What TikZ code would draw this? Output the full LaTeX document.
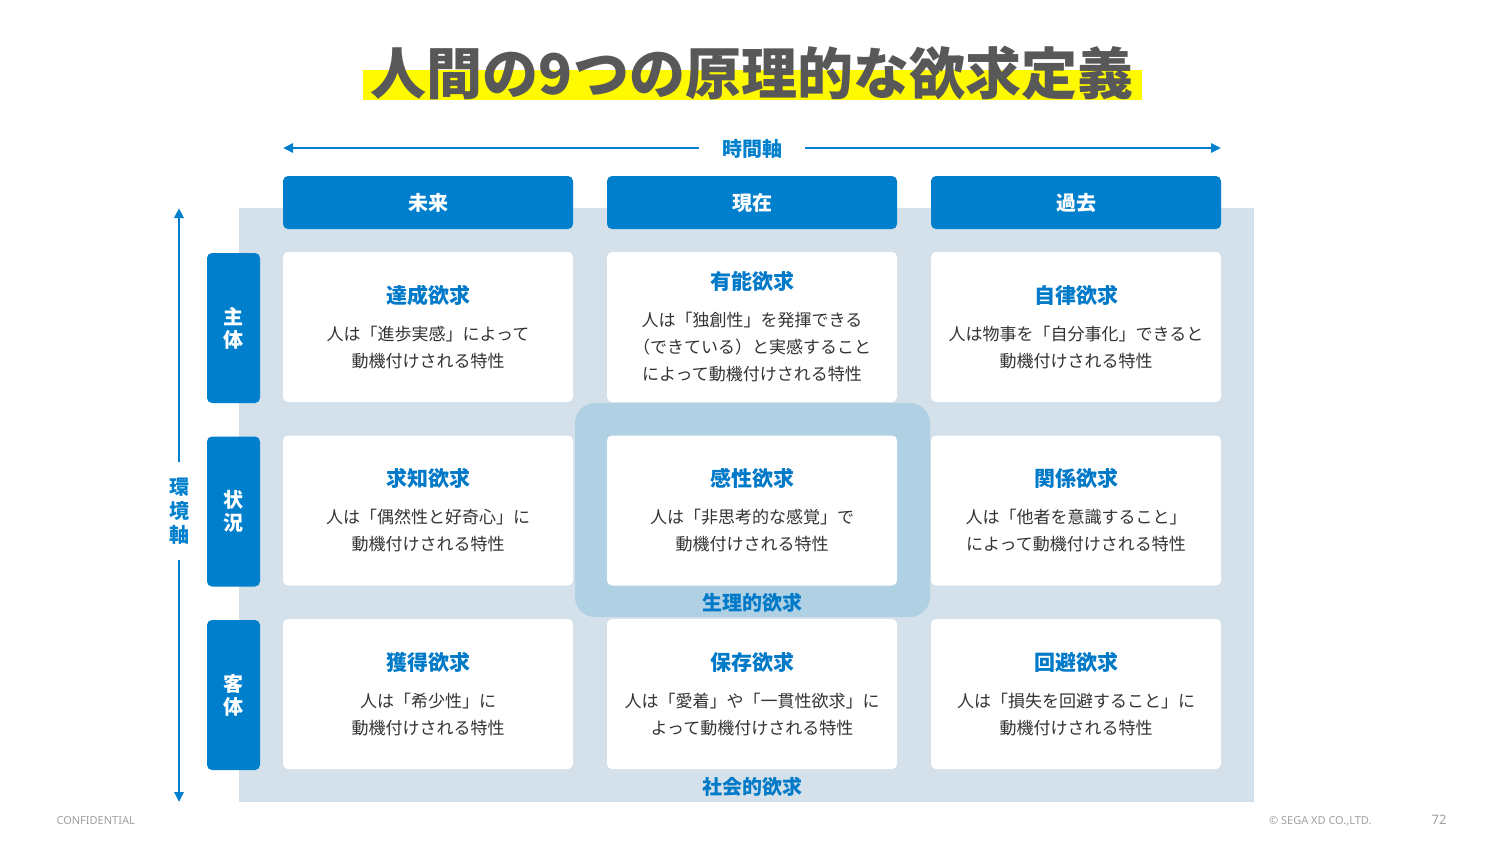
\documentclass[tikz,border=0pt]{standalone}
\usepackage{fontspec}
\setmainfont{Noto Sans CJK JP}
\newfontfamily\latinfont{Noto Sans}
\usetikzlibrary{arrows.meta}
\definecolor{mainblue}{RGB}{0,128,204}
\definecolor{textblue}{RGB}{0,122,200}
\definecolor{panel}{RGB}{212,225,234}
\definecolor{hilite}{RGB}{176,208,228}
\definecolor{titlegray}{RGB}{88,88,88}
\definecolor{bodygray}{RGB}{51,51,51}
\definecolor{marker}{RGB}{255,250,0}
\definecolor{footgray}{RGB}{160,160,160}
\tikzset{
  cellbox/.style={draw=none,fill=white,rounded corners=5pt,minimum width=290pt,minimum height=150pt,
    align=center,text=bodygray,font=\fontsize{17}{27}\selectfont,inner sep=0pt},
  headbox/.style={fill=mainblue,rounded corners=5pt,minimum width=290pt,minimum height=53pt,
    text=white,font=\bfseries\fontsize{20}{24}\selectfont,inner sep=0pt},
  rowbox/.style={fill=mainblue,rounded corners=5pt,minimum width=53pt,minimum height=150pt,
    text=white,font=\bfseries\fontsize{20}{23}\selectfont,align=center,inner sep=0pt},
  axislabel/.style={text=mainblue,font=\bfseries\fontsize{20}{24}\selectfont,align=center},
  axisline/.style={draw=mainblue,line width=2.5pt,-{Triangle[length=10pt,width=9pt]}},
  grouplabel/.style={text=textblue,font=\bfseries\fontsize{20}{24}\selectfont},
  foot/.style={text=footgray,font=\latinfont\fontsize{11}{13}\selectfont}
}
\newcommand{\celltitle}[1]{{\color{textblue}\bfseries\fontsize{21}{27}\selectfont #1}\\[10pt]}
\begin{document}
\begin{tikzpicture}[x=1pt,y=-1pt]
\useasboundingbox (0,0) rectangle (1500,844);
\fill[white] (0,0) rectangle (1500,844);
% title
\fill[marker] (363,70) rectangle (1142,100);
\node[text=titlegray,font=\bfseries\fontsize{56}{60}\selectfont,inner sep=0pt] (title) at (752,73) {人間の9つの原理的な欲求定義};
% panel
\fill[panel] (239,208) rectangle (1254,802);
\fill[hilite,rounded corners=20pt] (575,403) rectangle (930,617);
% time axis
\node[axislabel,inner xsep=23pt] (tl) at (752,149) {時間軸};
\coordinate (tleft) at (283,148);
\coordinate (tright) at (1221,148);
\draw[axisline] (tl.west |- tleft) -- (tleft);
\draw[axisline] (tl.east |- tright) -- (tright);
% environment axis
\node[axislabel,inner sep=0pt,minimum height=98pt,font=\bfseries\fontsize{20}{24}\selectfont] (el) at (179,511) {環\\境\\軸};
\coordinate (etop) at (179,208);
\coordinate (ebot) at (179,802);
\draw[axisline] (el.north) -- (etop);
\draw[axisline] (el.south) -- (ebot);
% headers
\node[headbox] (h1) at (428,202.5) {未来};
\node[headbox] (h2) at (752,202.5) {現在};
\node[headbox] (h3) at (1076,202.5) {過去};
% row labels
\node[rowbox] (r1) at (233.5,328) {主\\体};
\node[rowbox] (r2) at (233.5,511.5) {状\\況};
\node[rowbox] (r3) at (233.5,695) {客\\体};
% cells
\node[cellbox] (c11) at (428,327) {\celltitle{達成欲求}人は「進歩実感」によって\\動機付けされる特性};
\node[cellbox] (c12) at (752,327) {\celltitle{有能欲求}人は「独創性」を発揮できる\\（できている）と実感すること\\によって動機付けされる特性};
\node[cellbox] (c13) at (1076,327) {\celltitle{自律欲求}人は物事を「自分事化」できると\\動機付けされる特性};
\node[cellbox] (c21) at (428,510.5) {\celltitle{求知欲求}人は「偶然性と好奇心」に\\動機付けされる特性};
\node[cellbox] (c22) at (752,510.5) {\celltitle{感性欲求}人は「非思考的な感覚」で\\動機付けされる特性};
\node[cellbox] (c23) at (1076,510.5) {\celltitle{関係欲求}人は「他者を意識すること」\\によって動機付けされる特性};
\node[cellbox] (c31) at (428,694) {\celltitle{獲得欲求}人は「希少性」に\\動機付けされる特性};
\node[cellbox] (c32) at (752,694) {\celltitle{保存欲求}人は「愛着」や「一貫性欲求」に\\よって動機付けされる特性};
\node[cellbox] (c33) at (1076,694) {\celltitle{回避欲求}人は「損失を回避すること」に\\動機付けされる特性};
% group labels
\node[grouplabel] (g1) at (752,603) {生理的欲求};
\node[grouplabel] (g2) at (752,787) {社会的欲求};
% footer
\node[foot,anchor=west] (conf) at (53,821) {CONFIDENTIAL};
\node[foot,anchor=east] (copy) at (1375,821) {© SEGA XD CO.,LTD.};
\node[foot,font=\latinfont\fontsize{13}{15}\selectfont] (page) at (1439,820) {72};
\end{tikzpicture}
\end{document}
